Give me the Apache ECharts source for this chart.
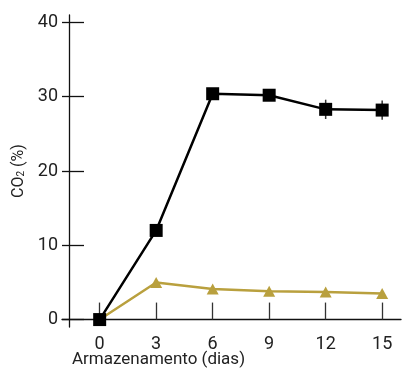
<!DOCTYPE html>
<html>
<head>
<meta charset="utf-8">
<script src="https://cdn.jsdelivr.net/npm/echarts@6/dist/echarts.min.js"></script>
<style>html,body{margin:0;padding:0;background:#fff;}#c{width:403px;height:368px;}</style>
</head>
<body>
<div id="c"></div>
<script>
var days = [0, 3, 6, 9, 12, 15];
var xTicks = [0, 3, 6, 9, 12, 15];
var yTicks = [0, 10, 20, 30, 40];
var seriesBlack = [0, 12.0, 30.4, 30.2, 28.3, 28.2];
var errBlack = [0, 0, 0, 0, 1.3, 1.3];
var seriesGold = [0, 5.0, 4.1, 3.8, 3.7, 3.5];

var FONT = 'Roboto';
var chart = echarts.init(document.getElementById('c'), null, {renderer: 'canvas'});

var blackData = days.map(function (d, i) { return [d, seriesBlack[i]]; });
var goldData = days.map(function (d, i) { return [d, seriesGold[i]]; });
var errData = days.map(function (d, i) { return [d, seriesBlack[i] - errBlack[i], seriesBlack[i] + errBlack[i]]; })
  .filter(function (r) { return r[2] > r[1]; });

var option = {
  animation: false,
  backgroundColor: '#fff',
  title: {
    text: 'Armazenamento (dias)',
    left: 67, top: 346,
    textStyle: {fontFamily: FONT, fontSize: 17, fontWeight: 'normal', color: '#222'}
  },
  grid: {left: 62, right: 2, top: 15, bottom: 41, containLabel: false},
  xAxis: {
    type: 'value', min: -2, max: 16,
    axisLine: {show: true, onZero: true, lineStyle: {color: '#111', width: 1.3}},
    axisTick: {show: true, inside: true, length: 17, customValues: xTicks, lineStyle: {color: '#333', width: 1.3}},
    axisLabel: {show: true, customValues: xTicks, margin: 8, fontFamily: FONT, fontSize: 18, color: '#222'},
    splitLine: {show: false}
  },
  yAxis: [{
    type: 'value', min: -1, max: 41, position: 'left', offset: -7,
    name: 'CO{sub|2} (%)', nameLocation: 'middle', nameGap: 40,
    nameTextStyle: {fontFamily: FONT, fontSize: 16, color: '#222',
      rich: {sub: {fontFamily: FONT, fontSize: 10, color: '#222', verticalAlign: 'bottom', padding: [6, 0, 0, 0]}}},
    axisLine: {show: true, onZero: false, lineStyle: {color: '#111', width: 1.3}},
    axisTick: {show: true, inside: true, length: 15, customValues: yTicks, lineStyle: {color: '#111', width: 1.3}},
    axisLabel: {show: true, customValues: yTicks, margin: 11, fontFamily: FONT, fontSize: 18, color: '#222'},
    splitLine: {show: false}
  }, {
    type: 'value', min: -1, max: 41, position: 'left', offset: -7,
    axisLine: {show: false, onZero: false},
    axisTick: {show: true, inside: false, length: 7, customValues: yTicks, lineStyle: {color: '#111', width: 1.3}},
    axisLabel: {show: false},
    splitLine: {show: false}
  }],
  series: [{
    type: 'line', data: goldData, yAxisIndex: 0,
    symbol: 'triangle', symbolSize: [12, 11],
    lineStyle: {color: '#B9A03E', width: 2.5},
    itemStyle: {color: '#B9A03E'}, z: 3
  }, {
    type: 'custom', yAxisIndex: 0, z: 4,
    data: errData,
    renderItem: function (params, api) {
      var p1 = api.coord([api.value(0), api.value(1)]);
      var p2 = api.coord([api.value(0), api.value(2)]);
      return {type: 'line', shape: {x1: p1[0], y1: p1[1], x2: p2[0], y2: p2[1]},
        style: {stroke: '#333', lineWidth: 1.5}};
    }
  }, {
    type: 'line', data: blackData, yAxisIndex: 0,
    symbol: 'rect', symbolSize: 13,
    lineStyle: {color: '#000', width: 2.5},
    itemStyle: {color: '#000'}, z: 5
  }]
};
chart.setOption(option);
</script>
</body>
</html>
